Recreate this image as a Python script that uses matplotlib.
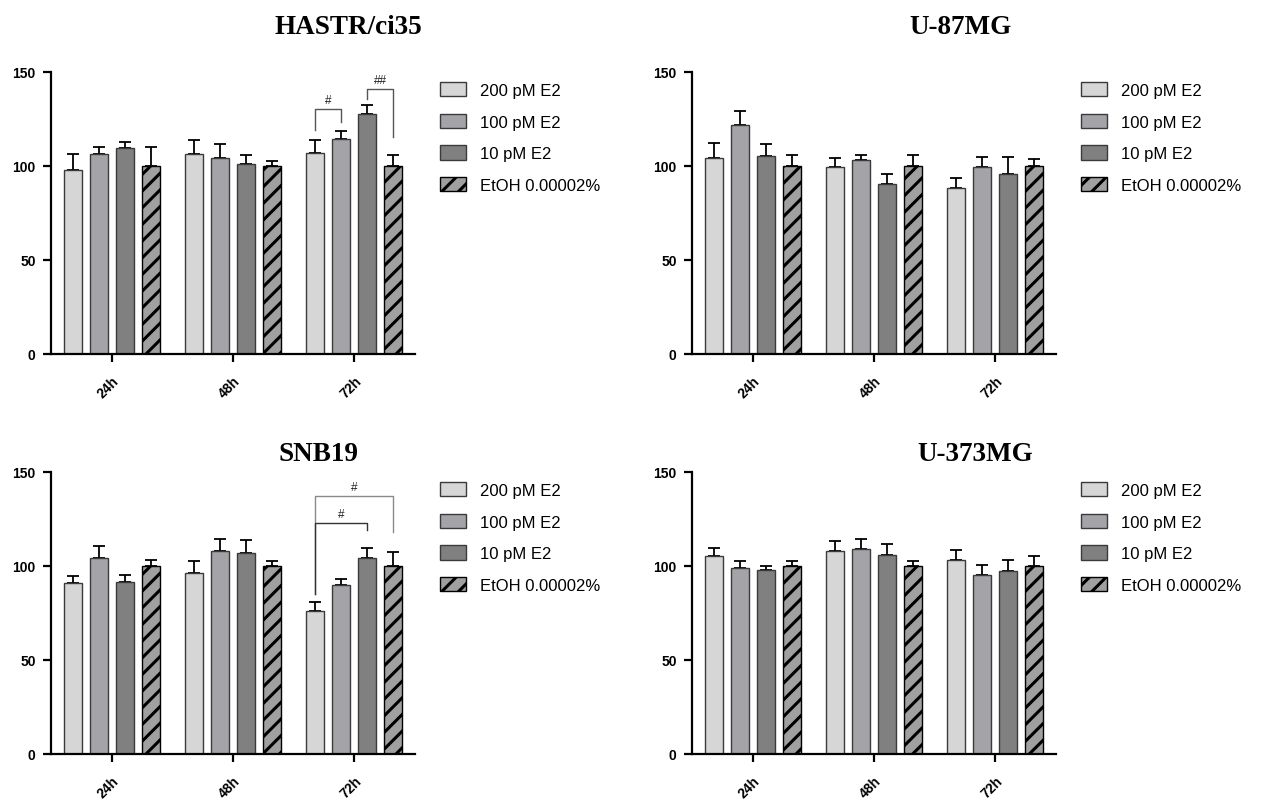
import matplotlib
matplotlib.use('Agg')
import matplotlib.pyplot as plt
import numpy as np

plt.rcParams['font.family'] = ['Liberation Sans', 'DejaVu Sans']
plt.rcParams['hatch.linewidth'] = 2.2

times = ['24h', '48h', '72h']
series = ['200 pM E2', '100 pM E2', '10 pM E2', 'EtOH 0.00002%']
face_colors = ['#d6d6d6', '#a3a3a8', '#808080', '#a0a0a0']
hatches = [None, None, None, '//']

# means per series (rows) x time point (cols), and upper error
hastr_mean = [[98.0, 106.6, 107.1], [106.6, 104.3, 114.6], [109.4, 101.2, 127.9], [100, 100, 100]]
hastr_err = [[8.5, 7.0, 6.8], [3.4, 7.2, 3.9], [3.4, 4.8, 4.4], [10.0, 2.5, 6.0]]

u87_mean = [[104.4, 99.5, 88.3], [122.0, 103.2, 99.5], [105.3, 90.4, 95.9], [100, 100, 100]]
u87_err = [[8.0, 4.9, 5.3], [7.5, 2.5, 5.5], [6.2, 5.2, 9.1], [5.7, 5.7, 3.9]]

snb_mean = [[90.7, 96.5, 76.1], [104.3, 108.0, 90.1], [91.6, 107.0, 104.0], [100, 100, 100]]
snb_err = [[4.2, 6.2, 4.8], [6.4, 6.2, 3.2], [3.7, 7.0, 5.8], [3.2, 2.7, 7.5]]

u373_mean = [[105.5, 108.0, 103.2], [99.1, 109.0, 95.4], [97.7, 105.8, 97.5], [100, 100, 100]]
u373_err = [[4.1, 5.3, 5.1], [3.7, 5.2, 5.3], [2.3, 5.7, 5.7], [2.8, 2.8, 5.5]]

titles = ['HASTR/ci35', 'U-87MG', 'SNB19', 'U-373MG']

# significance brackets: (bar_i, bar_j, top, left_end, right_end, label, color)
hastr_sig = [(0, 1, 130.5, 119.0, 123.4, '#', '#555555'),
             (2, 3, 141.2, 135.9, 115.5, '##', '#555555')]
snb_sig = [(0, 3, 137.2, 85.0, 118.0, '#', '#8a8a8a'),
           (0, 2, 123.0, 85.0, 119.0, '#', '#333333')]

panels = [
    (hastr_mean, hastr_err, hastr_sig),
    (u87_mean, u87_err, []),
    (snb_mean, snb_err, snb_sig),
    (u373_mean, u373_err, []),
]

W, H = 1262, 803
fig = plt.figure(figsize=(W / 100, H / 100), dpi=100)

axes_px = [(51, 73), (692, 73), (51, 473), (692, 473)]
ax_w, ax_h = 364, 282
title_px = [(348, 28), (961, 28), (319, 455), (975, 455)]

bar_step = 0.214
bar_w = 0.148

for k, (means, errs, sigs) in enumerate(panels):
    x0, y0 = axes_px[k]
    ax = fig.add_axes([x0 / W, 1 - (y0 + ax_h) / H, ax_w / W, ax_h / H])
    x = np.arange(len(times))
    for i, name in enumerate(series):
        pos = x + (i - 1.5) * bar_step
        edge = 'black' if hatches[i] else '#3a3a3a'
        ax.bar(pos, means[i], width=bar_w, color=face_colors[i], edgecolor=edge,
               linewidth=1.0, hatch=hatches[i], label=name, zorder=2)
        ax.errorbar(pos, means[i], yerr=[np.zeros(len(times)), errs[i]], fmt='none',
                    ecolor='black', elinewidth=1.3, capsize=4.5, capthick=1.3, zorder=1)

    for (bi, bj, top, le, re, lab, col) in sigs:
        xi = (bi - 1.5) * bar_step + 2
        xj = (bj - 1.5) * bar_step + 2
        ax.plot([xi, xi, xj, xj], [le, top, top, re], color=col, lw=1.0, zorder=3)
        ax.text((xi + xj) / 2, top + 1.5, lab, ha='center', va='bottom',
                fontsize=8.5, color='#222222')

    ax.set_xlim(-0.5, 2.5)
    ax.set_ylim(0, 150)
    ax.set_yticks([0, 50, 100, 150])
    ax.set_xticks(x)
    ax.set_xticklabels(times, rotation=45, ha='right', va='top', rotation_mode='anchor',
                       fontweight='bold', fontsize=10)
    for lbl in ax.get_yticklabels():
        lbl.set_fontweight('bold')
        lbl.set_fontsize(10)
    ax.spines['top'].set_visible(False)
    ax.spines['right'].set_visible(False)
    ax.spines['left'].set_linewidth(1.6)
    ax.spines['bottom'].set_linewidth(1.6)
    ax.tick_params(axis='both', direction='out', width=1.6, length=6, pad=5)
    ax.tick_params(axis='x', pad=8)

    ax.legend(loc='upper left', bbox_to_anchor=(1.068, 0.965), frameon=False,
              fontsize=12, borderaxespad=0, borderpad=0, handlelength=1.55,
              handleheight=0.95, labelspacing=0.95, handletextpad=0.85)

    tx, ty = title_px[k]
    fig.text(tx / W, 1 - ty / H, titles[k], ha='center', va='center',
             fontsize=19.5, fontweight='bold', family='Liberation Serif')

fig.savefig('out.png', dpi=100)
